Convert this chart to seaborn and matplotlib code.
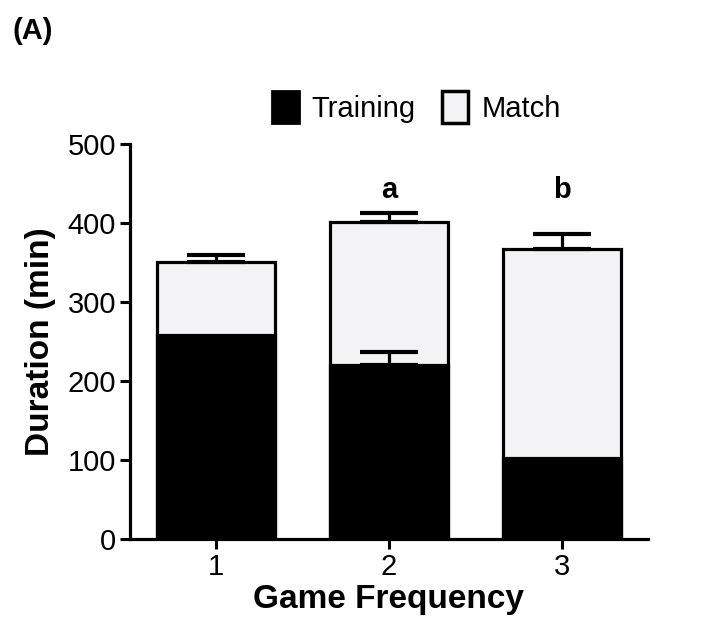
import matplotlib
matplotlib.use("Agg")
import matplotlib.pyplot as plt
import seaborn as sns
import pandas as pd
import numpy as np
from matplotlib.patches import Patch

categories = ["1", "2", "3"]
total_values = [351, 401, 367]      # Training + Match (stacked top)
training_values = [258, 220, 103]
total_err = [9, 12, 19]
training_err = [0, 17, 0]
sig_labels = ["", "a", "b"]

sns.set_theme(style="white")
plt.rcParams['font.family'] = ['Liberation Sans', 'DejaVu Sans']
plt.rcParams['text.color'] = 'black'
plt.rcParams['axes.labelcolor'] = 'black'

fig = plt.figure(figsize=(7.17, 6.27), dpi=100)
ax = fig.add_axes([0.181, 0.140, 0.723, 0.630])

df = pd.DataFrame({"freq": categories, "total": total_values, "training": training_values})

lw = 2.3
sns.barplot(data=df, x="freq", y="total", color="#f3f3f5", edgecolor="black",
            linewidth=lw, width=0.68, saturation=1, ax=ax, errorbar=None)
sns.barplot(data=df, x="freq", y="training", color="black", edgecolor="black",
            linewidth=lw, width=0.68, saturation=1, ax=ax, errorbar=None)

xs = np.arange(len(categories))
ax.errorbar(xs, total_values, yerr=[np.zeros(3), total_err], fmt="none",
            ecolor="black", elinewidth=lw, capsize=21, capthick=lw * 1.3, zorder=1)
mask = np.array(training_err) > 0
ax.errorbar(xs[mask], np.array(training_values)[mask],
            yerr=[np.zeros(mask.sum()), np.array(training_err)[mask]], fmt="none",
            ecolor="black", elinewidth=lw, capsize=21, capthick=lw * 1.3, zorder=3)

for x, lab in zip(xs, sig_labels):
    if lab:
        ax.text(x, 442, lab, ha="center", va="center", fontsize=21, fontweight="bold")

ax.set_xlim(-0.5, 2.5)
ax.set_ylim(0, 500)
ax.set_yticks([0, 100, 200, 300, 400, 500])
ax.set_xticks(xs)
ax.set_xticklabels(categories)
ax.tick_params(axis="both", labelsize=21, length=7, width=2.2, colors="black", direction="out",
               left=True, bottom=True, pad=3)
ax.set_ylabel("Duration (min)", fontsize=24, fontweight="bold", labelpad=8)
ax.set_xlabel("Game Frequency", fontsize=24, fontweight="bold", labelpad=2)
sns.despine(ax=ax)
for s in ["left", "bottom"]:
    ax.spines[s].set_linewidth(2.3)
    ax.spines[s].set_color("black")

handles = [Patch(facecolor="black", edgecolor="black", linewidth=2, label="Training"),
           Patch(facecolor="#f3f3f5", edgecolor="black", linewidth=2.5, label="Match")]
fig.legend(handles=handles, loc="center", bbox_to_anchor=(0.581, 0.829), ncol=2, frameon=False,
           fontsize=21, handlelength=0.9, handleheight=1.3, handletextpad=0.45, columnspacing=0.9)

fig.text(0.018, 0.95, "(A)", fontsize=21, fontweight="bold", ha="left", va="center")

fig.savefig("out.png", dpi=100)
